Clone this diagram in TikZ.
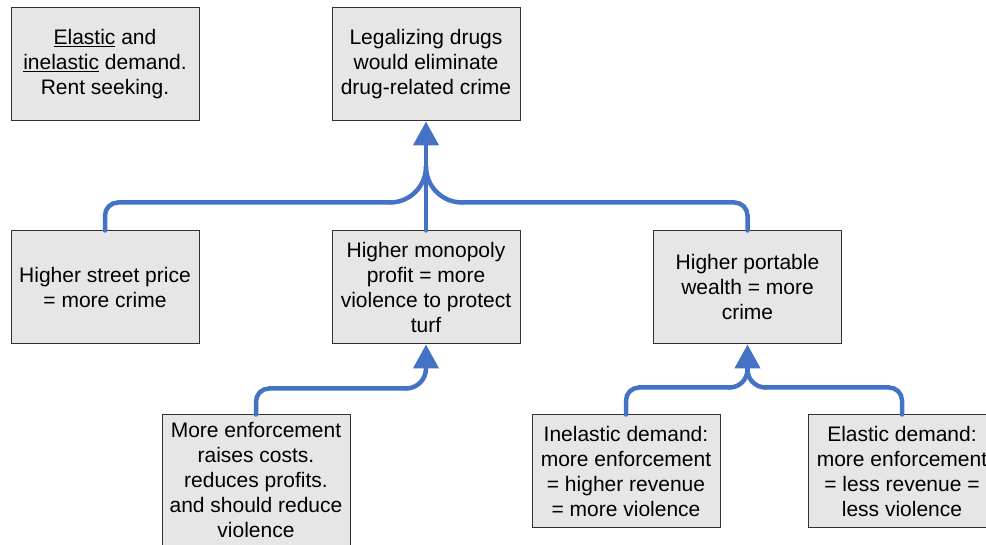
\documentclass[tikz,border=0pt]{standalone}
\usepackage{fontspec}
\setmainfont{Liberation Sans}
\usetikzlibrary{arrows.meta,calc}
\definecolor{boxfill}{RGB}{230,230,230}
\definecolor{boxline}{RGB}{50,50,50}
\definecolor{connblue}{RGB}{68,114,196}
\tikzset{
  box/.style={draw=boxline, line width=1pt, fill=boxfill, minimum width=188pt,
    minimum height=113pt, inner sep=0pt, align=center,
    font=\fontsize{21}{25}\selectfont},
  conn/.style={draw=connblue, line width=4.5pt, line cap=round},
  connarrow/.style={conn, -{Triangle[width=25pt,length=24pt]}},
}
\begin{document}
\begin{tikzpicture}[x=1pt,y=1pt]
\useasboundingbox (0,0) rectangle (986,545);
\clip (0,0) rectangle (986,545);
% nodes (y measured upward: y = 545 - pixel y)
\node[box] (tl) at (105,480.5) {\underline{Elastic} and\\ \underline{inelastic} demand.\\ Rent seeking.};
\node[box] (t) at (426,480.5) {Legalizing drugs\\ would eliminate\\ drug-related crime};
\node[box] (l) at (105,257.5) {Higher street price\\ = more crime};
\node[box] (m) at (426,257.5) {Higher monopoly\\ profit = more\\ violence to protect\\ turf};
\node[box] (r) at (747.5,257.5) {Higher portable\\ wealth = more\\ crime};
\node[box, minimum height=131pt] (a) at (256,64.5) {More enforcement\\ raises costs.\\ reduces profits.\\ and should reduce\\ violence};
\node[box] (b) at (626,73.5) {Inelastic demand:\\ more enforcement\\ = higher revenue\\ = more violence};
\node[box] (c) at (902,73.5) {Elastic demand:\\ more enforcement\\ = less revenue =\\ less violence};
% junction coordinates
\coordinate (j1) at ($(t.south)+(0,-45)$);
\coordinate (p1) at ($(j1)+(-36,-36)$);
\coordinate (p2) at ($(j1)+(36,-36)$);
\coordinate (j2) at ($(m.south)+(0,-24)$);
\coordinate (p3) at ($(j2)+(-20,-20)$);
\coordinate (j3) at ($(r.south)+(0,-25)$);
\coordinate (p4) at ($(j3)+(-18,-18)$);
\coordinate (p5) at ($(j3)+(18,-18)$);
% top tree
\draw[conn, rounded corners=13pt] (l.north) |- (p1);
\draw[conn] (p1) arc[start angle=-90, end angle=0, radius=36];
\draw[conn, rounded corners=13pt] (r.north) |- (p2);
\draw[conn] (p2) arc[start angle=270, end angle=180, radius=36];
\draw[connarrow] (m.north) -- (t.south);
% bottom left
\draw[conn, rounded corners=13pt] (a.north) |- (p3);
\draw[conn] (p3) arc[start angle=-90, end angle=0, radius=20];
\draw[connarrow] (j2) -- (m.south);
% bottom right
\draw[conn, rounded corners=13pt] (b.north) |- (p4);
\draw[conn] (p4) arc[start angle=-90, end angle=0, radius=18];
\draw[conn, rounded corners=13pt] (c.north) |- (p5);
\draw[conn] (p5) arc[start angle=270, end angle=180, radius=18];
\draw[connarrow] (j3) -- (r.south);
\end{tikzpicture}
\end{document}
